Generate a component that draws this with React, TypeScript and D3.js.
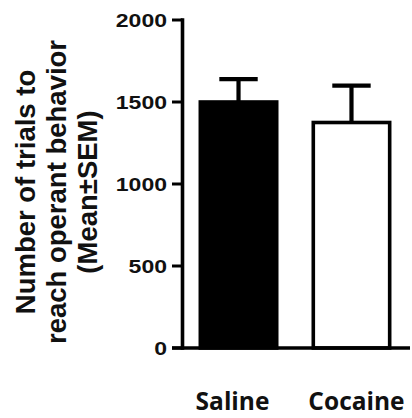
import React from "react";
import * as d3 from "d3";

// Trials needed to reach operant behavior, per treatment group
const groups: string[] = ["Saline", "Cocaine"];
const means: number[] = [1500, 1375];
const sems: number[] = [140, 225];
const fills: string[] = ["#000000", "#ffffff"];
const yTicks: number[] = [0, 500, 1000, 1500, 2000];
const titleLines: string[] = ["Number of trials to", "reach operant behavior", "(Mean±SEM)"];

const W = 412;
const H = 418;
const axisX = 182.5;
const stroke = 3.6;
// horizontal nudge of each category label relative to its bar centre
const labelShift: Record<string, number> = { Saline: -6, Cocaine: 5 };

export default function App() {
  const y = d3.scaleLinear().domain([0, 2000]).range([348, 20]);
  const x = d3
    .scaleBand<string>()
    .domain(groups)
    .range([180, 410])
    .paddingInner(0.292)
    .paddingOuter(0.164);
  const bw = x.bandwidth();
  const capW = bw * 0.48;

  return (
    <svg
      width={W}
      height={H}
      style={{ position: "absolute", left: 0, top: 0, background: "#fff" }}
    >
      {/* bars */}
      {groups.map((g, i) => {
        const x0 = x(g)!;
        const top = y(means[i]);
        return (
          <rect
            key={g}
            x={x0 + stroke / 2}
            y={top}
            width={bw - stroke}
            height={y(0) - top}
            fill={fills[i]}
            stroke="#000"
            strokeWidth={stroke}
          />
        );
      })}

      {/* error bars (upper SEM) */}
      {groups.map((g, i) => {
        const cx = x(g)! + bw / 2;
        const top = y(means[i] + sems[i]);
        return (
          <g key={g + "-err"} stroke="#000" strokeWidth={4.2}>
            <line x1={cx} x2={cx} y1={y(means[i])} y2={top} />
            <line x1={cx - capW / 2} x2={cx + capW / 2} y1={top} y2={top} />
          </g>
        );
      })}

      {/* axes */}
      <line x1={axisX} x2={axisX} y1={y(2000) - stroke / 2} y2={y(0) + stroke / 2} stroke="#000" strokeWidth={stroke} />
      <line x1={172} x2={410} y1={y(0)} y2={y(0)} stroke="#000" strokeWidth={stroke} />
      {yTicks.map((t) => (
        <g key={t}>
          <line x1={172} x2={axisX} y1={y(t)} y2={y(t)} stroke="#000" strokeWidth={3} />
          <text
            transform={`translate(167,${y(t)}) scale(1.28,1)`}
            textAnchor="end"
            dominantBaseline="central"
            fontFamily="'Liberation Sans', Arial, sans-serif"
            fontWeight="bold"
            fontSize={18}
            fill="#111"
          >
            {t}
          </text>
        </g>
      ))}

      {/* category labels */}
      {groups.map((g) => (
        <text
          key={g + "-lbl"}
          x={x(g)! + bw / 2 + labelShift[g]}
          y={410}
          textAnchor="middle"
          fontFamily="'Open Sans', 'Noto Sans', sans-serif"
          fontWeight="bold"
          fontSize={24.5}
          fill="#111"
        >
          {g}
        </text>
      ))}

      {/* y-axis title */}
      {titleLines.map((line, i) => (
        <text
          key={line}
          transform={`translate(${35 + i * 31},192) rotate(-90)`}
          textAnchor="middle"
          fontFamily="'Liberation Sans', Arial, sans-serif"
          fontWeight="bold"
          fontSize={27.5}
          fill="#111"
        >
          {line}
        </text>
      ))}
    </svg>
  );
}
